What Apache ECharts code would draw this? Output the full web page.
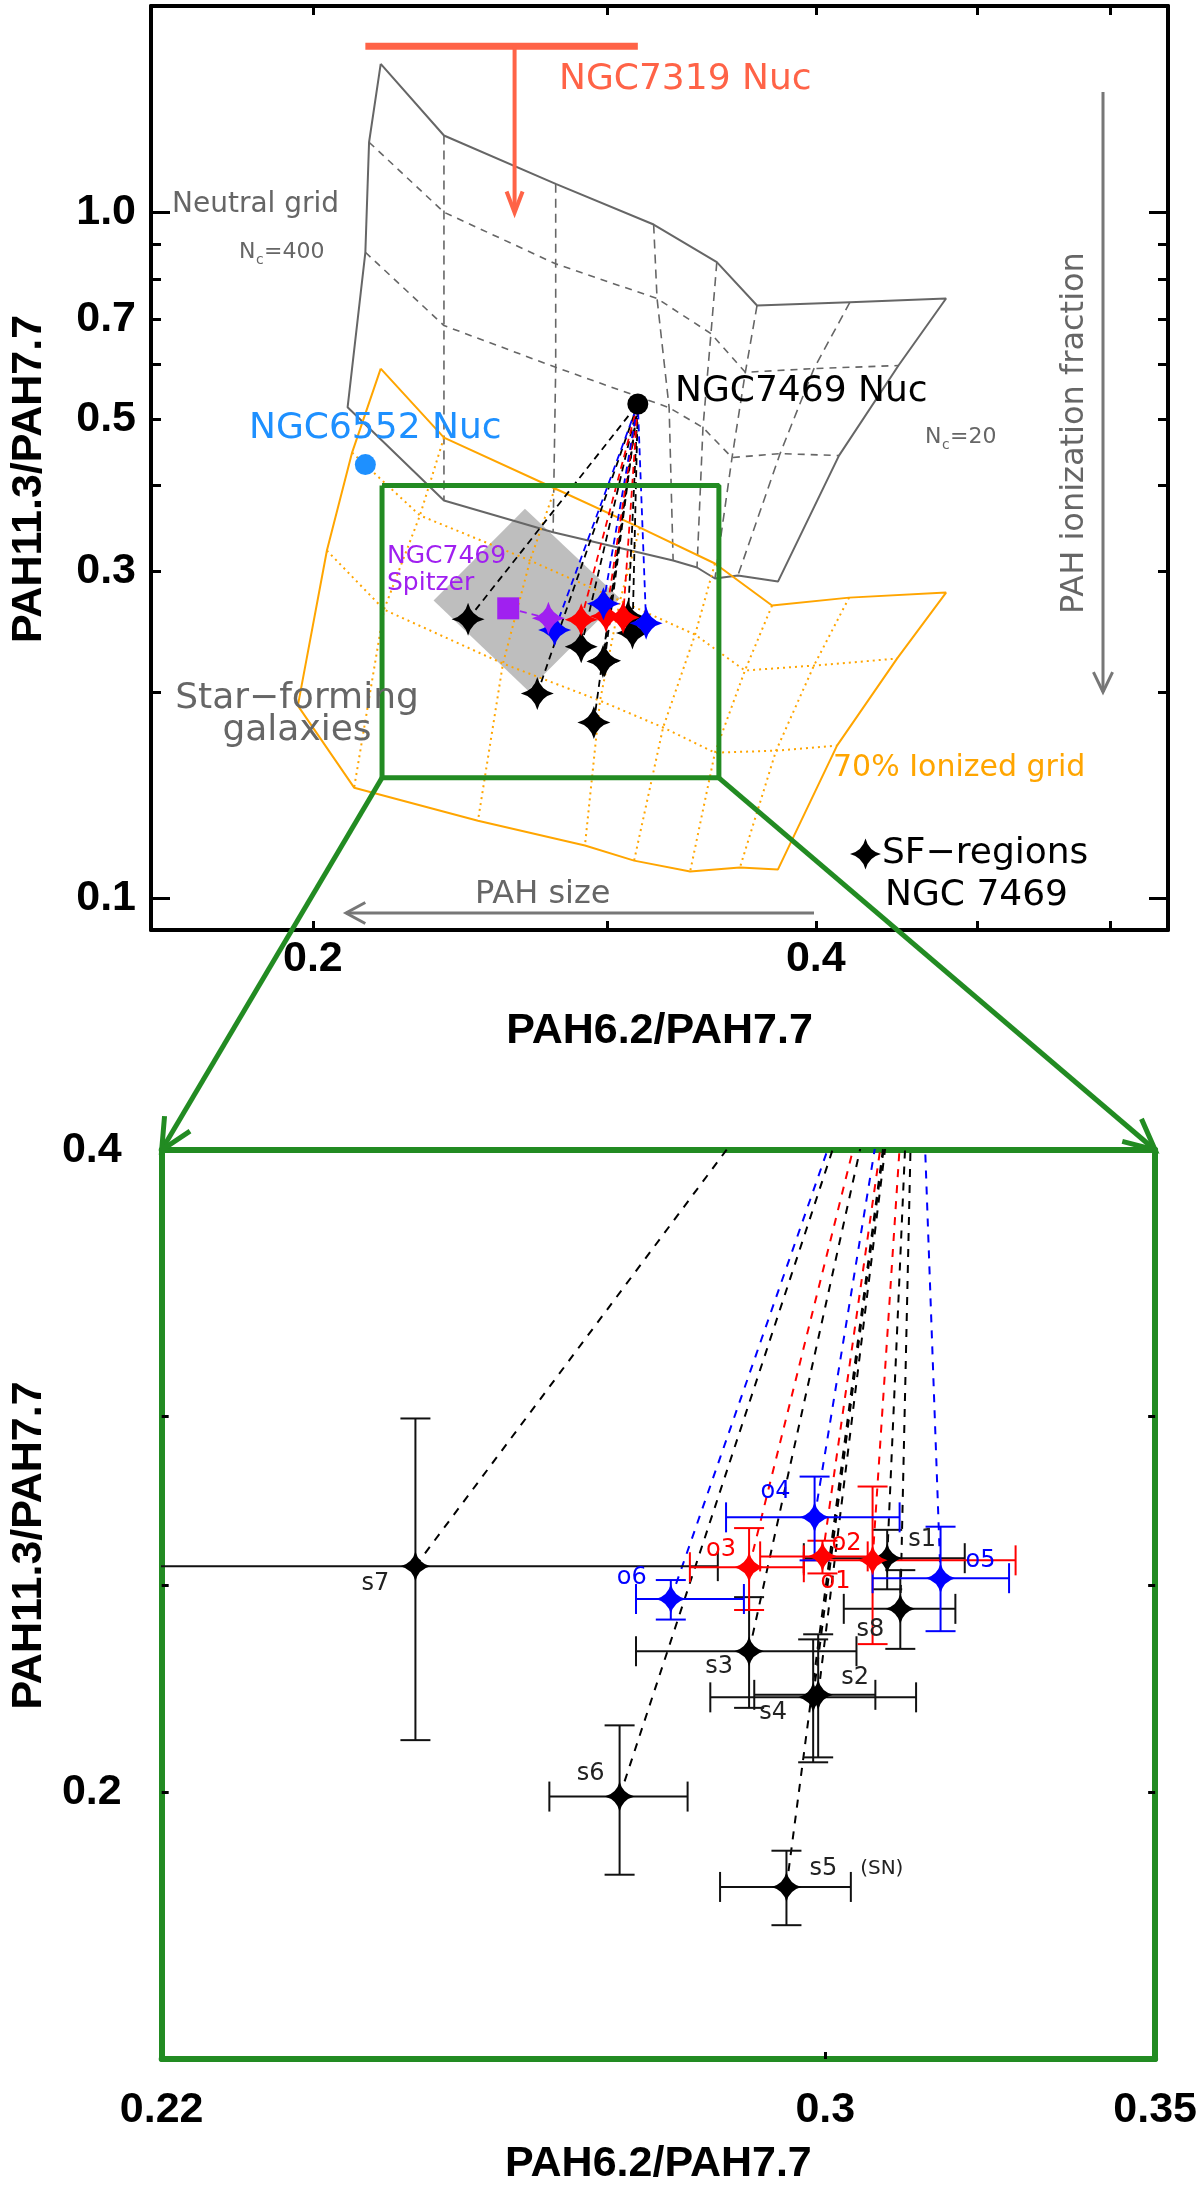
<!DOCTYPE html>
<html><head><meta charset="utf-8">
<script src="https://cdn.jsdelivr.net/npm/echarts@6/dist/echarts.min.js"></script>
<style>html,body{margin:0;padding:0;background:#fff}#c{width:1200px;height:2187px}</style>
</head><body><div id="c"></div>
<script>
// ---------------- DATA ----------------
// SF regions of NGC 7469 (black)
const sfNames = ['s1','s2','s3','s4','s5','s6','s7','s8'];
const sfX   = [0.3088,0.2990,0.2895,0.2983,0.2946,0.2725,0.2477,0.3107];
const sfY   = [0.2575,0.2222,0.2329,0.2216,0.1806,0.1991,0.2553,0.2438];
const sfXLo = [0.2970,0.2902,0.2746,0.2843,0.2856,0.2637,0.2100,0.3026];
const sfXHi = [0.3202,0.3071,0.3044,0.3130,0.3036,0.2813,0.2853,0.3188];
const sfYLo = [0.2490,0.2077,0.2191,0.2066,0.1733,0.1830,0.2116,0.2335];
const sfYHi = [0.2655,0.2372,0.2469,0.2359,0.1878,0.2150,0.2994,0.2542];
// red regions
const redNames = ['o1','o2','o3'];
const redX   = [0.3067,0.2996,0.2895];
const redY   = [0.2569,0.2580,0.2550];
const redXLo = [0.2970,0.2910,0.2816];
const redXHi = [0.3279,0.3060,0.2970];
const redYLo = [0.2347,0.2533,0.2435];
const redYHi = [0.2782,0.2624,0.2660];
// blue regions
const blueNames = ['o4','o5','o6'];
const blueX   = [0.2985,0.3166,0.2791];
const blueY   = [0.2691,0.2520,0.2464];
const blueXLo = [0.2864,0.3067,0.2746];
const blueXHi = [0.3106,0.3269,0.2888];
const blueYLo = [0.2569,0.2380,0.2410];
const blueYHi = [0.2812,0.2664,0.2515];
// nuclei and other sources
const nuc7469 = [0.313, 0.526];
const nuc6552 = [0.2150, 0.4292];
const spitzerSquare = [0.2618, 0.2649];
const spitzerStar = [0.2767, 0.2562];
const nuc7319X = [0.215, 0.313];      // upper-limit bar extent
const nuc7319Y = 1.747;
const nuc7319ArrowX = 0.2641;
const nuc7319ArrowTo = 1.0;
// star-forming galaxies region (diamond)
const sfGalX = [0.2679, 0.3054, 0.2690, 0.2362];
const sfGalY = [0.3700, 0.2737, 0.2010, 0.2719];
// zoomed region
const zoomX = [0.22, 0.35];
const zoomY = [0.15, 0.40];
// neutral PAH grid (rows of nodes)
const neutralTop    = [[0.2196,1.647],[0.2396,1.295],[0.2795,1.101],[0.3199,0.9605],[0.3490,0.8465],[0.3689,0.7321],[0.4193,0.7402],[0.4787,0.7494]];
const neutralRow1   = [[0.2161,1.266],[0.2396,1.001],[0.2795,0.8418],[0.3214,0.7494],[0.3462,0.6661],[0.3630,0.5850],[0.3990,0.5923],[0.4483,0.5984]];
const neutralRow2   = [[0.2150,0.8751],[0.2396,0.6843],[0.2795,0.5949],[0.3268,0.5195],[0.3424,0.4859],[0.3564,0.4394],[0.3808,0.4453],[0.4130,0.4423]];
const neutralBottom = [[0.2098,0.5201],[0.2396,0.3804],[0.2785,0.3420],[0.3286,0.3110],[0.3396,0.3038],[0.3481,0.2928],[0.3593,0.2958],[0.3797,0.2898]];
// 70% ionized grid
const ionTop    = [[0.2196,0.5923],[0.2396,0.4699],[0.2792,0.3961],[0.3139,0.3474],[0.3481,0.3079],[0.3766,0.2674],[0.4188,0.2746],[0.4787,0.2793]];
const ionRow1   = [[0.2111,0.4468],[0.2318,0.3618],[0.2698,0.3110],[0.3054,0.2719],[0.3387,0.2425],[0.3628,0.2150],[0.3990,0.2186],[0.4474,0.2238]];
const ionRow2   = [[0.2039,0.3216],[0.2206,0.2638],[0.2599,0.2201],[0.2971,0.1943],[0.3241,0.1776],[0.3481,0.1632],[0.3787,0.1643],[0.4119,0.1671]];
const ionBottom = [[0.1959,0.1911],[0.2117,0.1451],[0.2511,0.1299],[0.2910,0.1195],[0.3114,0.1136],[0.3364,0.1095],[0.3603,0.1110],[0.3797,0.1103]];
// axes
const topXRange = [0.16, 0.65];
const topYRange = [0.09, 2.0];
const topXTicks = [0.2, 0.3, 0.4, 0.5, 0.6];
const topXLabelVals = [0.2, 0.4];
const topXLabelText = ['0.2', '0.4'];
const topYTicks = [0.2, 0.3, 0.4, 0.5, 0.6, 0.7, 0.8, 0.9];
const topYMajorTicks = [0.1, 1.0];
const topYLabelVals = [0.1, 0.3, 0.5, 0.7, 1.0];
const topYLabelText = ['0.1', '0.3', '0.5', '0.7', '1.0'];
const botXTicks = [0.3];
const botXLabelVals = [0.22, 0.3, 0.35];
const botXLabelText = ['0.22', '0.3', '0.35'];
const botYTicks = [0.2, 0.25, 0.3];
const botYLabelVals = [0.2, 0.4];
const botYLabelText = ['0.2', '0.4'];

// ---------------- STYLE ----------------
const FONT = '"DejaVu Sans", sans-serif';
const AXFONT = '"Liberation Sans", Arial, sans-serif';
const GREEN = '#228B22', ORANGE = '#FFA500', GREY = '#666666', TOMATO = '#FF6347';
const PURPLE = '#A020F0', LBLUE = '#1E90FF';
const STAR = 'path://M50 0 Q60 40 100 50 Q60 60 50 100 Q40 60 0 50 Q40 40 50 0 Z';
const SF_LEGEND = 'SF\u2212regions';
const labelOffsets = {s1:[35,-18], s2:[37,-17], s3:[-30,16], s4:[-40,15], s5:[70,-18], s6:[-29,-23], s7:[-40,18], s8:[-30,21],
                      o1:[-37,21], o2:[24,-13], o3:[-28,-17], o4:[-39,-26], o5:[40,-17], o6:[-39,-21]};

const L = Math.log10;
const P = p => [L(p[0]), L(p[1])];
function lab(v, vals, texts) {
  for (let i = 0; i < vals.length; i++) if (Math.abs(L(vals[i]) - v) < 1e-6) return texts[i];
  return '';
}

function axis(o) {
  return {
    type: 'value', gridIndex: o.grid, position: o.pos, min: L(o.range[0]), max: L(o.range[1]),
    splitLine: {show: false},
    axisLine: {show: o.line !== false, onZero: false, lineStyle: {color: o.lineColor || '#000', width: o.lineWidth || 4}},
    axisTick: o.ticks ? {show: true, inside: true, length: o.tickLen, lineStyle: {color: '#000', width: 3}, customValues: o.ticks.map(L)} : {show: false},
    axisLabel: o.labelVals ? {show: true, customValues: o.labelVals.map(L), formatter: v => lab(v, o.labelVals, o.labelText),
      margin: o.labelMargin, color: '#000', fontSize: 43, fontWeight: 'bold', fontFamily: AXFONT} : {show: false},
    name: o.name || '', nameLocation: 'middle', nameGap: o.nameGap || 0, nameRotate: o.nameRotate,
    nameTextStyle: {color: '#000', fontSize: 43, fontWeight: 'bold', fontFamily: AXFONT, padding: o.namePad || 0},
    silent: true
  };
}

const xAxes = [
  axis({grid: 0, pos: 'bottom', range: topXRange, ticks: topXTicks, tickLen: 9, labelVals: topXLabelVals, labelText: topXLabelText, labelMargin: 8, name: 'PAH6.2/PAH7.7', nameGap: 80}),
  axis({grid: 0, pos: 'top', range: topXRange, ticks: topXTicks, tickLen: 9}),
  axis({grid: 1, pos: 'bottom', range: zoomX, ticks: botXTicks, tickLen: 7, lineColor: GREEN, lineWidth: 6, labelVals: botXLabelVals, labelText: botXLabelText, labelMargin: 30, name: 'PAH6.2/PAH7.7', nameGap: 84}),
  axis({grid: 1, pos: 'top', range: zoomX, lineColor: GREEN, lineWidth: 6})
];
const yAxes = [
  axis({grid: 0, pos: 'left', range: topYRange, ticks: topYTicks, tickLen: 10, labelVals: topYLabelVals, labelText: topYLabelText, labelMargin: 15, name: 'PAH11.3/PAH7.7', nameGap: 100, nameRotate: 90, namePad: [0, 22, 0, 0]}),
  axis({grid: 0, pos: 'right', range: topYRange, ticks: topYTicks, tickLen: 10}),
  axis({grid: 0, pos: 'left', range: topYRange, ticks: topYMajorTicks, tickLen: 19, line: false}),
  axis({grid: 0, pos: 'right', range: topYRange, ticks: topYMajorTicks, tickLen: 19, line: false}),
  axis({grid: 1, pos: 'left', range: zoomY, ticks: botYTicks, tickLen: 7, lineColor: GREEN, lineWidth: 6, labelVals: botYLabelVals, labelText: botYLabelText, labelMargin: 40, name: 'PAH11.3/PAH7.7', nameGap: 100, nameRotate: 90, namePad: [0, 0, 0, 118]}),
  axis({grid: 1, pos: 'right', range: zoomY, ticks: botYTicks, tickLen: 7, lineColor: GREEN, lineWidth: 6})
];

const series = [];
function line(top, pts, color, width, type, z) {
  series.push({type: 'line', xAxisIndex: top ? 0 : 2, yAxisIndex: top ? 0 : 4, data: pts.map(P),
    symbol: 'none', showSymbol: false, silent: true, animation: false, z: z || 2, clip: true,
    lineStyle: {color: color, width: width, type: type || 'solid'}});
}

// diamond: star-forming galaxies
series.push({type: 'custom', xAxisIndex: 0, yAxisIndex: 0, silent: true, z: 1, data: [[L(sfGalX[0]), L(sfGalY[0])]],
  renderItem: (params, api) => ({type: 'polygon', shape: {points: sfGalX.map((x, i) => api.coord([L(x), L(sfGalY[i])]))}, style: {fill: '#BEBEBE'}})});

// grids
function meshSeries(rows, color, outW, innerW, innerDash, colDash) {
  const n = rows[0].length, last = rows.length - 1;
  const outline = [].concat(rows[0], rows.slice(1).map(r => r[n - 1]), rows[last].slice(0, n - 1).reverse(),
                            rows.slice(0, last).reverse().map(r => r[0]));
  for (let r = 1; r < last; r++) line(true, rows[r], color, innerW, innerDash);
  for (let c = 1; c < n - 1; c++) line(true, rows.map(r => r[c]), color, innerW, colDash);
  line(true, outline, color, outW, 'solid');
}
meshSeries([neutralTop, neutralRow1, neutralRow2, neutralBottom], GREY, 2, 1.6, [7, 6], [9, 6]);
meshSeries([ionTop, ionRow1, ionRow2, ionBottom], ORANGE, 2, 2, [2, 4], [2, 4]);

// NGC7319 upper limit
series.push({type: 'custom', xAxisIndex: 0, yAxisIndex: 0, silent: true, z: 3, data: [[L(nuc7319X[0]), L(nuc7319Y)]],
  renderItem: (params, api) => {
    const a = api.coord([L(nuc7319X[0]), L(nuc7319Y)]), b = api.coord([L(nuc7319X[1]), L(nuc7319Y)]);
    const t = api.coord([L(nuc7319ArrowX), L(nuc7319Y)]), e = api.coord([L(nuc7319ArrowX), L(nuc7319ArrowTo)]);
    return {type: 'group', children: [
      {type: 'line', shape: {x1: a[0], y1: a[1], x2: b[0], y2: b[1]}, style: {stroke: TOMATO, lineWidth: 7}},
      {type: 'line', shape: {x1: t[0], y1: t[1], x2: e[0], y2: e[1] - 2}, style: {stroke: TOMATO, lineWidth: 4}},
      {type: 'polyline', shape: {points: [[e[0] - 8, e[1] - 21], [e[0], e[1]], [e[0] + 8, e[1] - 21]]}, style: {stroke: TOMATO, lineWidth: 4, fill: null}}
    ]};
  }});

// zoom box
line(true, [[zoomX[0], zoomY[1]], [zoomX[1], zoomY[1]], [zoomX[1], zoomY[0]], [zoomX[0], zoomY[0]], [zoomX[0], zoomY[1]]], GREEN, 5, 'solid', 4);

// connector dashed lines (both panels)
const groups = [
  {names: sfNames, x: sfX, y: sfY, xlo: sfXLo, xhi: sfXHi, ylo: sfYLo, yhi: sfYHi, color: '#000000', err: '#111111', legend: SF_LEGEND},
  {names: redNames, x: redX, y: redY, xlo: redXLo, xhi: redXHi, ylo: redYLo, yhi: redYHi, color: '#FF0000', err: '#FF0000'},
  {names: blueNames, x: blueX, y: blueY, xlo: blueXLo, xhi: blueXHi, ylo: blueYLo, yhi: blueYHi, color: '#0000FF', err: '#0000FF'}
];
groups.forEach(g => g.x.forEach((x, i) => {
  line(true, [[x, g.y[i]], nuc7469], g.color, 1.8, [7, 5], 3);
  line(false, [[x, g.y[i]], nuc7469], g.color, 2, [8, 8], 3);
}));
line(true, [spitzerSquare, spitzerStar], PURPLE, 1.8, [7, 5], 3);

// top markers
function scatter(top, data, symbol, size, color, z, extra) {
  series.push(Object.assign({type: 'scatter', xAxisIndex: top ? 0 : 2, yAxisIndex: top ? 0 : 4, symbol: symbol, symbolSize: size,
    itemStyle: {color: color, opacity: 1}, silent: true, animation: false, z: z || 5, data: data}, extra || {}));
}
groups.forEach(g => scatter(true, g.x.map((x, i) => P([x, g.y[i]])), STAR, 33, g.color, 5, g.legend ? {name: g.legend} : {}));
scatter(true, [P(spitzerSquare)], 'rect', 22, PURPLE, 6);
scatter(true, [P(spitzerStar)], STAR, 33, PURPLE, 6);
scatter(true, [P(nuc7469)], 'circle', 21, '#000000', 6);
scatter(true, [P(nuc6552)], 'circle', 21, LBLUE, 6);

// bottom: error bars
groups.forEach(g => {
  series.push({type: 'custom', xAxisIndex: 2, yAxisIndex: 4, silent: true, z: 4, clip: true,
    data: g.x.map((x, i) => [L(x), L(g.y[i]), L(g.xlo[i]), L(g.xhi[i]), L(g.ylo[i]), L(g.yhi[i])]),
    encode: {x: [0, 2, 3], y: [1, 4, 5]},
    renderItem: (params, api) => {
      const xl = api.coord([api.value(2), api.value(1)]), xh = api.coord([api.value(3), api.value(1)]);
      const yl = api.coord([api.value(0), api.value(4)]), yh = api.coord([api.value(0), api.value(5)]);
      const c = 15, st = {stroke: g.err, lineWidth: 2};
      const L2 = (x1, y1, x2, y2) => ({type: 'line', shape: {x1, y1, x2, y2}, style: st});
      return {type: 'group', children: [
        L2(xl[0], xl[1], xh[0], xh[1]), L2(xl[0], xl[1] - c, xl[0], xl[1] + c), L2(xh[0], xh[1] - c, xh[0], xh[1] + c),
        L2(yl[0], yl[1], yh[0], yh[1]), L2(yl[0] - c, yl[1], yl[0] + c, yl[1]), L2(yh[0] - c, yh[1], yh[0] + c, yh[1])
      ]};
    }});
});
// bottom: stars with labels
groups.forEach(g => {
  scatter(false, g.names.map((n, i) => ({name: n, value: P([g.x[i], g.y[i]]), label: {offset: labelOffsets[n]}})), STAR, 30, g.color, 6, {
    label: {show: true, position: 'inside', color: g.color === '#000000' ? '#222' : g.color, fontSize: 24, fontFamily: FONT,
      formatter: p => p.name === 's5' ? 's5   {sn|(SN)}' : p.name, rich: {sn: {fontSize: 20, fontFamily: FONT, color: '#222'}}}
  });
});

const option = {
  backgroundColor: '#ffffff',
  animation: false,
  grid: [
    {left: 151, top: 6, width: 1017, height: 924, containLabel: false},
    {left: 150, top: 1150, width: 1018, height: 924, containLabel: false}
  ],
  legend: {
    show: true, left: 850, top: 836, padding: 0, itemGap: 0, itemWidth: 31, itemHeight: 31, selectedMode: false,
    data: [{name: SF_LEGEND, icon: STAR, itemStyle: {color: '#000'}}],
    textStyle: {fontSize: 36, fontFamily: FONT, color: '#000', padding: [0, 0, 0, -4]}
  },
  xAxis: xAxes,
  yAxis: yAxes,
  series: series
};

const chart = echarts.init(document.getElementById('c'), null, {renderer: 'canvas'});
chart.setOption(option);

// ---------------- annotations ----------------
function txt(x, y, text, size, color, align, extra) {
  return Object.assign({type: 'text', x: x, y: y, z: 50, silent: true,
    style: {text: text, fill: color, fontSize: size, fontFamily: FONT, align: align || 'left', verticalAlign: 'middle',
            textAlign: align || 'left', textVerticalAlign: 'middle'}}, extra || {});
}
function arrow(a, b, color, w, hl, ang) {
  const t = Math.atan2(b[1] - a[1], b[0] - a[0]);
  const w1 = [b[0] - hl * Math.cos(t - ang), b[1] - hl * Math.sin(t - ang)];
  const w2 = [b[0] - hl * Math.cos(t + ang), b[1] - hl * Math.sin(t + ang)];
  return [{type: 'line', z: 100, silent: true, shape: {x1: a[0], y1: a[1], x2: b[0], y2: b[1]}, style: {stroke: color, lineWidth: w}},
          {type: 'polyline', z: 100, silent: true, shape: {points: [w1, b, w2]}, style: {stroke: color, lineWidth: w, fill: null}}];
}
const topF = {xAxisIndex: 0, yAxisIndex: 0}, botF = {xAxisIndex: 2, yAxisIndex: 4};
const cBL = chart.convertToPixel(topF, P([zoomX[0], zoomY[0]]));
const cBR = chart.convertToPixel(topF, P([zoomX[1], zoomY[0]]));
const dTL = chart.convertToPixel(botF, P([zoomX[0], zoomY[1]]));
const dTR = chart.convertToPixel(botF, P([zoomX[1], zoomY[1]]));

const graphics = [].concat(
  arrow(cBL, dTL, GREEN, 5, 34, 0.45),
  arrow(cBR, dTR, GREEN, 5, 34, 0.45),
  arrow([814, 913], [346, 913], '#777777', 3, 22, 0.5),
  arrow([1103, 92], [1103, 692], '#777777', 3, 22, 0.45),
  [
    txt(172, 205, 'Neutral grid', 28, GREY),
    txt(239, 252, 'N', 22, GREY), txt(256, 260, 'c', 14, GREY), txt(264, 252, '=400', 22, GREY),
    txt(925, 437, 'N', 22, GREY), txt(942, 445, 'c', 14, GREY), txt(950, 437, '=20', 22, GREY),
    txt(559, 80, 'NGC7319 Nuc', 36, TOMATO),
    txt(249, 429, 'NGC6552 Nuc', 36, LBLUE),
    txt(675, 392, 'NGC7469 Nuc', 36, '#000'),
    txt(387, 556, 'NGC7469', 25, PURPLE),
    txt(387, 583, 'Spitzer', 25, PURPLE),
    txt(297, 699, 'Star\u2212forming', 36, GREY, 'center'),
    txt(297, 731, 'galaxies', 36, GREY, 'center'),
    txt(833, 768, '70% Ionized grid', 30, ORANGE),
    txt(885, 896, 'NGC 7469', 36, '#000'),
    txt(475, 895, 'PAH size', 32, GREY),
    txt(1075, 433, 'PAH ionization fraction', 32, GREY, 'center', {rotation: Math.PI / 2})
  ]
);
chart.setOption({graphic: graphics});
</script></body></html>
